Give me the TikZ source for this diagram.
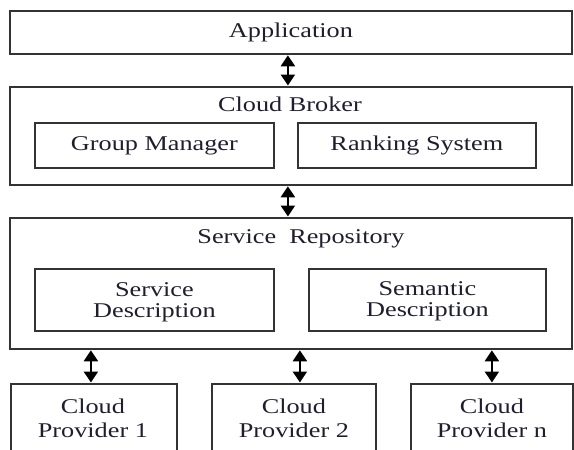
\documentclass[tikz,border=0pt]{standalone}
\usepackage{fontspec}
\setmainfont{Liberation Serif}[FakeStretch=1.25]
\usetikzlibrary{arrows.meta}
\definecolor{ink}{HTML}{1E1E2E}
\definecolor{edge}{HTML}{333333}
\tikzset{
  box/.style={draw=edge, line width=1.8pt, rectangle, anchor=north west, inner sep=0pt,
    font=\fontsize{21}{21}\selectfont, text=ink, align=center},
  lbl/.style={inner sep=0pt, font=\fontsize{21}{22}\selectfont, text=ink, align=center},
  dbl/.style={line width=2.4pt, draw=black,
    {Triangle[width=14pt,length=11pt]}-{Triangle[width=14pt,length=11pt]}, shorten <=0.5pt, shorten >=0.5pt}
}
\begin{document}
\begin{tikzpicture}[x=1pt,y=-1pt]
\useasboundingbox (0,0) rectangle (574,450);
\begin{scope}
\clip (0,0) rectangle (574,450);
% top
\node[box, minimum width=562pt, minimum height=43pt] (app) at (9,10) {Application};
% broker
\node[box, minimum width=562pt, minimum height=98pt] (broker) at (9,86) {};
\node[lbl] (brokert) at (290,104) {Cloud Broker};
\node[box, minimum width=239pt, minimum height=45pt] (gm) at (34,122) {Group Manager};
\node[box, minimum width=238pt, minimum height=45pt] (rank) at (297,122) {Ranking System};
% repository
\node[box, minimum width=562pt, minimum height=131pt] (repo) at (9,217) {};
\node[lbl] (repot) at (301,239) {Service\ \ Repository};
\node[box, minimum width=239pt, minimum height=62pt] (sdesc) at (34,268) {};
\node[box, minimum width=237pt, minimum height=62pt] (semd) at (308,268) {};
\node[lbl, font=\fontsize{21}{21}\selectfont] (sdesct) at ([yshift=-2pt]sdesc.center) {Service\\Description};
\node[lbl, font=\fontsize{21}{21}\selectfont] (semdt) at ([yshift=-1pt]semd.center) {Semantic\\Description};
% providers
\node[box, minimum width=166pt, minimum height=100pt] (p1) at (10,383) {};
\node[box, minimum width=164pt, minimum height=100pt] (p2) at (211,383) {};
\node[box, minimum width=162pt, minimum height=100pt] (p3) at (410,383) {};
\node[lbl, anchor=north] (p1t) at ([xshift=-1pt,yshift=-16pt]p1.north) {Cloud\\[2pt]Provider 1};
\node[lbl, anchor=north] (p2t) at ([yshift=-16pt]p2.north) {Cloud\\[2pt]Provider 2};
\node[lbl, anchor=north] (p3t) at ([yshift=-16pt]p3.north) {Cloud\\[2pt]Provider n};
% connector anchors
\coordinate (a1) at ([xshift=-3pt]p1.north);
\coordinate (a2) at ([xshift=6pt]p2.north);
\coordinate (a3) at (p3.north);
% connectors
\draw[dbl] ([xshift=-3pt]app.south) -- ([xshift=-3pt]broker.north);
\draw[dbl] ([xshift=-3pt]broker.south) -- ([xshift=-3pt]repo.north);
\draw[dbl] (repo.south -| a1) -- (a1);
\draw[dbl] (repo.south -| a2) -- (a2);
\draw[dbl] (repo.south -| a3) -- (a3);
\end{scope}
\end{tikzpicture}
\end{document}
